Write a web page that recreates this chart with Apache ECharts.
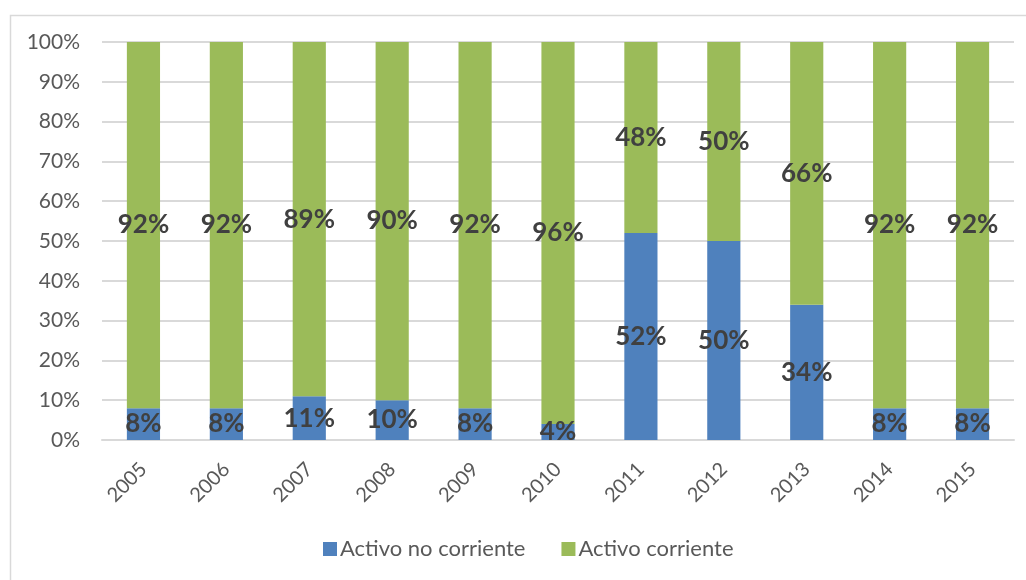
<!DOCTYPE html>
<html>
<head>
<meta charset="utf-8">
<script src="https://cdn.jsdelivr.net/npm/echarts@6/dist/echarts.min.js"></script>
<style>
  html, body { margin: 0; padding: 0; background: #ffffff; }
  #chart { width: 1026px; height: 580px; }
</style>
</head>
<body>
<div id="chart"></div>
<script>
// Years on the category axis
const years = ['2005', '2006', '2007', '2008', '2009', '2010', '2011', '2012', '2013', '2014', '2015'];
// Share of total assets, in percent
const activoNoCorriente = [8, 8, 11, 10, 8, 4, 52, 50, 34, 8, 8];
const activoCorriente = [92, 92, 89, 90, 92, 96, 48, 50, 66, 92, 92];
const seriesNames = ['Activo no corriente', 'Activo corriente'];

const FONT = 'Lato, "Liberation Sans", sans-serif';

const labelStyle = {
  show: true,
  position: 'inside',
  formatter: '{c}%',
  color: '#404040',
  fontFamily: FONT,
  fontWeight: 'bold',
  fontSize: 26
};

const chart = echarts.init(document.getElementById('chart'), null, { renderer: 'canvas' });
chart.setOption({
  animation: false,
  backgroundColor: '#ffffff',
  graphic: [{
    type: 'rect',
    left: 8, top: 13,
    shape: { width: 1040, height: 600 },
    style: { fill: 'none', stroke: '#d9d9d9', lineWidth: 1.5 },
    silent: true, z: -1
  }],
  grid: { left: 102, right: 12, top: 42, bottom: 140 },
  legend: {
    data: seriesNames,
    bottom: 15,
    left: 318,
    itemWidth: 14,
    itemHeight: 14,
    itemGap: 36,
    icon: 'rect',
    textStyle: { color: '#595959', fontFamily: FONT, fontSize: 22, padding: [0, 0, 0, -2] }
  },
  xAxis: {
    type: 'category',
    data: years,
    axisLine: { show: true, lineStyle: { color: '#d9d9d9', width: 2 } },
    axisTick: { show: false },
    axisLabel: {
      rotate: 45,
      color: '#595959',
      fontFamily: FONT,
      fontSize: 20,
      margin: 26
    }
  },
  yAxis: {
    type: 'value',
    min: 0,
    max: 100,
    interval: 10,
    axisLine: { show: false },
    axisTick: { show: false },
    splitLine: { lineStyle: { color: '#d9d9d9', width: 2 } },
    axisLabel: {
      formatter: '{value}%',
      color: '#595959',
      fontFamily: FONT,
      fontSize: 21,
      margin: 22
    }
  },
  series: [
    {
      name: seriesNames[0],
      type: 'bar',
      stack: 'total',
      barWidth: '40%',
      data: activoNoCorriente,
      itemStyle: { color: '#4f81bd' },
      label: labelStyle
    },
    {
      name: seriesNames[1],
      type: 'bar',
      stack: 'total',
      barWidth: '40%',
      data: activoCorriente,
      itemStyle: { color: '#9bbb59' },
      label: labelStyle
    }
  ]
});
</script>
</body>
</html>
